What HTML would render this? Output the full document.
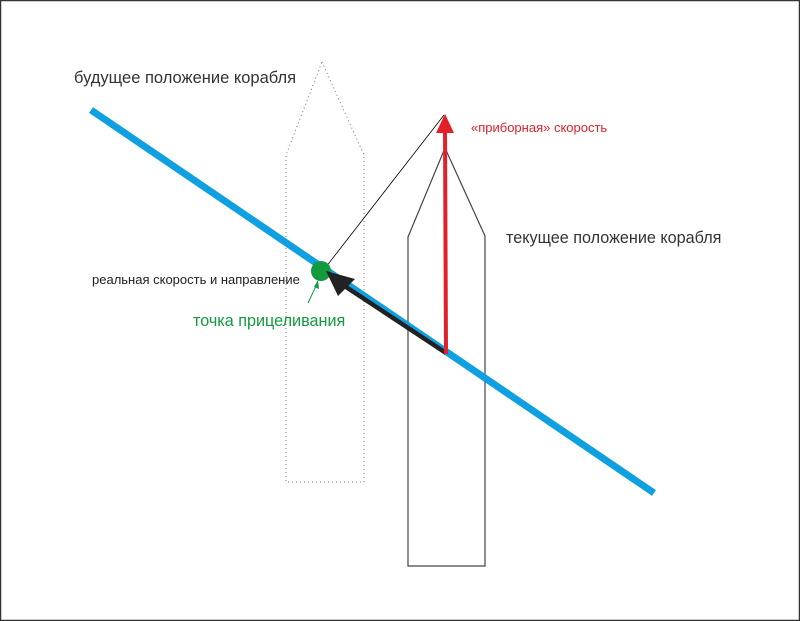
<!DOCTYPE html>
<html><head><meta charset="utf-8"><style>
html,body{margin:0;padding:0;background:#fff}
svg{display:block}
text{font-family:"Liberation Sans",sans-serif}
</style></head><body>
<svg width="800" height="621" viewBox="0 0 800 621" xmlns="http://www.w3.org/2000/svg">
<rect x="0.5" y="0.5" width="799" height="620" fill="#fff" stroke="#333" stroke-width="1.5"/>
<polygon points="322,62 364,155 364,482 286,482 286,155" fill="none" stroke="#777" stroke-width="1" stroke-dasharray="1,3"/>
<polygon points="445,148 485,236 485,566 408,566 408,237" fill="none" stroke="#444" stroke-width="1.2"/>
<line x1="91" y1="110" x2="654" y2="493" stroke="#0ea0e0" stroke-width="7"/>
<line x1="322" y1="272" x2="444" y2="115" stroke="#000" stroke-width="0.8"/>
<circle cx="321" cy="271" r="10" fill="#129a3e"/>
<line x1="446" y1="353" x2="340" y2="283" stroke="#222" stroke-width="4.5"/>
<polygon points="326,271 355,279 338,296" fill="#222"/>
<line x1="446" y1="354" x2="445" y2="130" stroke="#e32028" stroke-width="4"/>
<polygon points="445,114 454,133 436,133" fill="#e32028"/>
<line x1="308" y1="303" x2="317" y2="284" stroke="#129a3e" stroke-width="1"/>
<polygon points="318,280 319,289 314,287" fill="#129a3e"/>
<text x="74" y="83" font-size="16.5" fill="#333">будущее положение корабля</text>
<text x="471" y="132" font-size="13" fill="#e32028">«приборная» скорость</text>
<text x="506" y="243" font-size="16.2" fill="#333">текущее положение корабля</text>
<text x="92" y="284" font-size="13" fill="#222">реальная скорость и направление</text>
<text x="193" y="326" font-size="16.2" fill="#129a3e">точка прицеливания</text>
</svg>
</body></html>
